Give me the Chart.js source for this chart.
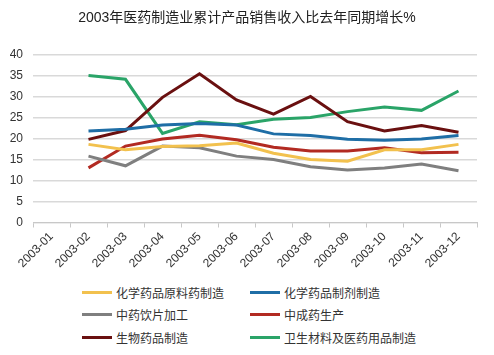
<!DOCTYPE html>
<html><head><meta charset="utf-8">
<script src="https://cdn.jsdelivr.net/npm/chart.js@4/dist/chart.umd.min.js"></script>
<style>
html,body{margin:0;padding:0;background:#fff;}
#wrap{position:relative;width:494px;height:355px;}
#c{position:absolute;left:0;top:0;}
#title{position:absolute;left:0;top:6px;width:494px;text-align:center;font-family:"Liberation Sans","Noto Sans CJK SC",sans-serif;font-size:14px;color:#222;}
.leg{position:absolute;font-family:"Liberation Sans","Noto Sans CJK SC",sans-serif;font-size:12px;color:#333;white-space:nowrap;display:flex;align-items:center;height:16px;}
.leg span.sw{display:inline-block;width:30px;height:3px;margin-right:4px;}
</style></head>
<body><div id="wrap"><canvas id="c" width="494" height="280"></canvas><div id="title"></div><div id="legend"></div></div>
<script>
const titleText = "2003年医药制造业累计产品销售收入比去年同期增长%";
const categories = ["2003-01","2003-02","2003-03","2003-04","2003-05","2003-06","2003-07","2003-08","2003-09","2003-10","2003-11","2003-12"];
const seriesNames = ["化学药品原料药制造","化学药品制剂制造","中药饮片加工","中成药生产","生物药品制造","卫生材料及医药用品制造"];
const rawMaterial = [null,18.6,17.3,18.1,18.3,18.9,16.5,15.0,14.6,17.3,17.3,18.6];
const preparation = [null,21.8,22.2,23.2,23.6,23.2,21.1,20.7,19.8,19.6,19.9,20.7];
const herbalPieces = [null,15.8,13.5,18.2,17.8,15.8,15.0,13.3,12.5,13.0,13.9,12.3];
const patentMedicine = [null,13.0,18.2,19.9,20.8,19.7,17.9,17.0,17.0,17.8,16.6,16.7];
const biological = [null,19.8,21.9,29.8,35.4,29.2,25.8,30.0,24.0,21.8,23.1,21.5];
const sanitary = [null,35.0,34.1,21.2,24.0,23.3,24.6,25.0,26.4,27.5,26.7,31.3];
const yTicks = [0,5,10,15,20,25,30,35,40];
const colors = ["#F2C14E","#1F6EA6","#7F7F7F","#B22A22","#6A1010","#2AA468"];

const values = [rawMaterial,preparation,herbalPieces,patentMedicine,biological,sanitary];
const FONT = '"Liberation Sans","Noto Sans CJK SC",sans-serif';
Chart.defaults.font.family = FONT;
document.getElementById('title').textContent = titleText;

new Chart(document.getElementById('c'), {
  type:'line',
  data:{labels:categories, datasets: values.map((v,i)=>({label:seriesNames[i],data:v,borderColor:colors[i],backgroundColor:colors[i],borderWidth:3,pointRadius:0,tension:0,spanGaps:false}))},
  options:{
    responsive:false, animation:false,
    layout:{padding:{left:0,right:17,top:54.5,bottom:0}},
    plugins:{legend:{display:false}, tooltip:{enabled:false}, title:{display:false}},
    scales:{
      x:{offset:true,
        grid:{offset:true,drawOnChartArea:false,drawTicks:true,tickLength:5,color:'#c8c8c8'},
        border:{display:true,color:'#c8c8c8'},
        ticks:{minRotation:45,maxRotation:45,color:'#333',font:{size:12},padding:2},
        afterFit:(s)=>{s.height=57.5;}
      },
      y:{min:0,max:40,
        afterBuildTicks:(s)=>{s.ticks=yTicks.map(v=>({value:v}));},
        grid:{color:'#d9d9d9',drawTicks:false,lineWidth:1.5},
        border:{display:false},
        ticks:{color:'#333',font:{size:12},padding:10},
        afterFit:(s)=>{s.width=33;}
      }
    }
  }
});

const leg = document.getElementById('legend');
const pos = [[82,284],[250,284],[82,306],[250,306],[82,329],[250,329]];
seriesNames.forEach((n,i)=>{
  const d=document.createElement('div'); d.className='leg';
  d.style.left=pos[i][0]+'px'; d.style.top=pos[i][1]+'px';
  d.innerHTML='<span class="sw" style="background:'+colors[i]+'"></span>'+n;
  leg.appendChild(d);
});
</script></body></html>
